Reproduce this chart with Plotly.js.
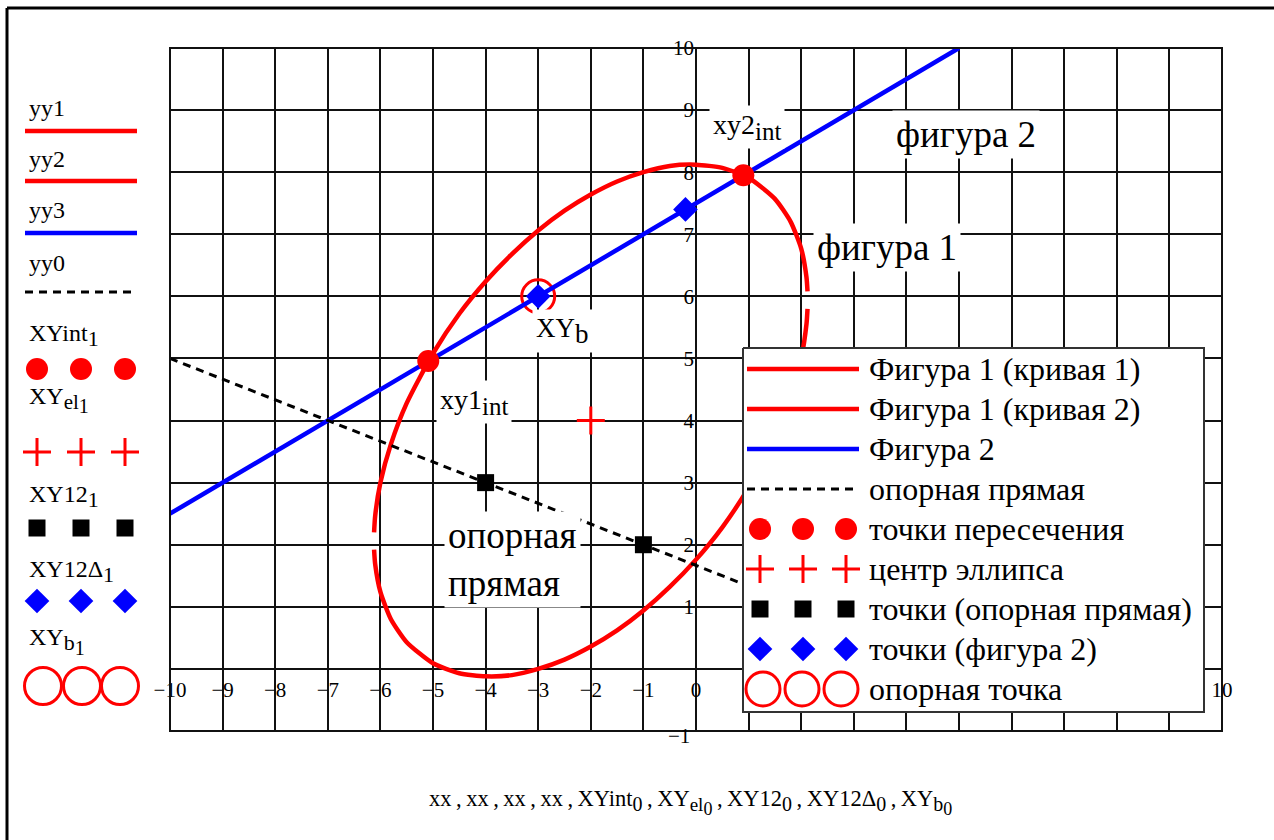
<!DOCTYPE html>
<html>
<head>
<meta charset="utf-8">
<script src="https://cdn.plot.ly/plotly-3.0.1.min.js"></script>
<style>
  html, body { margin: 0; padding: 0; background: #fff; }
  #chart { width: 1274px; height: 840px; }
</style>
</head>
<body>
<div id="chart"></div>
<script>
// ---- data -------------------------------------------------------------
// Figure 1: tilted ellipse, upper branch yy1 and lower branch yy2 over xx
const xx  = [-6.12, -6.1, -6.0, -5.8, -5.5, -5.0, -4.5, -4.0, -3.5, -3.0, -2.5, -2.0,
             -1.5, -1.0, -0.5, 0.0, 0.5, 1.0, 1.5, 1.8, 2.0, 2.1, 2.12];
const yy1 = [2.20, 2.46, 3.00, 3.62, 4.28, 5.08, 5.72, 6.24, 6.68, 7.06, 7.38, 7.64,
             7.85, 8.00, 8.10, 8.12, 8.07, 7.91, 7.57, 7.20, 6.77, 6.31, 6.08];
const yy2 = [1.92, 1.69, 1.24, 0.80, 0.43, 0.09, -0.07, -0.12, -0.10, 0.00, 0.15, 0.36,
             0.62, 0.94, 1.32, 1.76, 2.28, 2.92, 3.72, 4.38, 5.00, 5.55, 5.80];

// Figure 2: straight line yy3
const xx3 = [-10, 5];
const yy3 = [2.5, 10];

// Reference line yy0
const xx0 = [-10, 5];
const yy0 = [5, 0];

// Point sets
const XYintX  = [-5.09, 0.90];   // intersection points
const XYintY  = [4.96, 7.95];
const XYelX   = [-2];            // ellipse centre
const XYelY   = [4];
const XY12X   = [-4, -1];        // points on the reference line
const XY12Y   = [3, 2];
const XY12dX  = [-3, -0.2];      // points on figure 2
const XY12dY  = [6, 7.4];
const XYbX    = [-3];            // reference point
const XYbY    = [6];

// Axis ticks (labels 1..9 on x sit under the legend box, so only their grid is drawn)
const xLabelVals = [-10, -9, -8, -7, -6, -5, -4, -3, -2, -1, 0, 10];
const xGridOnly  = [1, 2, 3, 4, 5, 6, 7, 8, 9];
const yLabelVals = [1, 2, 3, 4, 5, 6, 7, 8, 9, 10];
const yBottomLabel = -1;

// ---- styles -----------------------------------------------------------
const SERIF = "'Liberation Serif', 'DejaVu Serif', serif";
const RED = '#ff0000', BLUE = '#0000ff', BLACK = '#000000';

// subscript kept close to the size of the main text
const sub = (s, px) => '<sub><span style="font-size:' + px + 'px">' + s + '</span></sub>';

// Legend texts
const boxLabels = ['Фигура 1 (кривая 1)', 'Фигура 1 (кривая 2)', 'Фигура 2', 'опорная прямая',
                   'точки пересечения', 'центр эллипса', 'точки (опорная прямая)',
                   'точки (фигура 2)', 'опорная точка'];
const sideLabels = ['yy1', 'yy2', 'yy3', 'yy0',
                    'XYint' + sub('1', 22),
                    'XY' + sub('el' + sub('1', 20), 21),
                    'XY12' + sub('1', 22),
                    'XY12Δ' + sub('1', 22),
                    'XY' + sub('b' + sub('1', 20), 22)];
const SEP = '\u2009,\u2009';
const xTitle = ['xx', 'xx', 'xx', 'xx',
                'XYint' + sub('0', 20),
                'XY' + sub('el' + sub('0', 18), 19),
                'XY12' + sub('0', 20),
                'XY12Δ' + sub('0', 20),
                'XY' + sub('b' + sub('0', 18), 20)].join(SEP);

const styles = [
  {kind: 'line', line: {color: RED, width: 4.5}},
  {kind: 'line', line: {color: RED, width: 4.5}},
  {kind: 'line', line: {color: BLUE, width: 4.5}},
  {kind: 'line', line: {color: BLACK, width: 3, dash: '8px,6px'}},
  {kind: 'marker', marker: {symbol: 'circle', size: 22, color: RED}},
  {kind: 'marker', marker: {symbol: 'cross-thin', size: 20, color: RED, line: {color: RED, width: 3}}},
  {kind: 'marker', marker: {symbol: 'square', size: 17, color: BLACK}},
  {kind: 'marker', marker: {symbol: 'diamond', size: 19, color: BLUE}},
  {kind: 'marker', marker: {symbol: 'circle-open', size: 33, color: RED, line: {color: RED, width: 3}}}
];

// ---- page geometry (pixels) -------------------------------------------
const W = 1274, H = 840;
const plotL = 170, plotR = 1222, plotT = 48, plotB = 731;
const xRange = [-10, 10], yRange = [-1, 10];
const xZeroPx = plotL + (0 - xRange[0]) / (xRange[1] - xRange[0]) * (plotR - plotL);
const yZeroPx = plotB - (0 - yRange[0]) / (yRange[1] - yRange[0]) * (plotB - plotT);

// ---- main traces ------------------------------------------------------
const traces = [
  {x: XYbX, y: XYbY, mode: 'markers', marker: styles[8].marker},
  {x: xx, y: yy1, mode: 'lines', line: Object.assign({shape: 'spline', smoothing: 0.6}, styles[0].line)},
  {x: xx, y: yy2, mode: 'lines', line: Object.assign({shape: 'spline', smoothing: 0.6}, styles[1].line)},
  {x: xx3, y: yy3, mode: 'lines', line: styles[2].line},
  {x: xx0, y: yy0, mode: 'lines', line: styles[3].line},
  {x: XYintX, y: XYintY, mode: 'markers', marker: styles[4].marker},
  {x: XYelX, y: XYelY, mode: 'markers', marker: styles[5].marker},
  {x: XY12X, y: XY12Y, mode: 'markers', marker: styles[6].marker},
  {x: XY12dX, y: XY12dY, mode: 'markers', marker: styles[7].marker}
].map(t => Object.assign({type: 'scatter', xaxis: 'x', yaxis: 'y', hoverinfo: 'skip', showlegend: false}, t));

// ---- legends drawn on a pixel-space overlay ---------------------------
const annotations = [];
const box = {l: 743, r: 1204, t: 348, b: 712};
traces.push({
  type: 'scatter', xaxis: 'x2', yaxis: 'y2', mode: 'lines', fill: 'toself', fillcolor: '#ffffff',
  x: [box.l, box.r, box.r, box.l, box.l], y: [box.t, box.t, box.b, box.b, box.t],
  line: {color: '#333333', width: 2}, hoverinfo: 'skip', showlegend: false
});

function addSample(style, lineX, markXs, yPx, ringSize) {
  if (style.kind === 'line') {
    traces.push({type: 'scatter', xaxis: 'x2', yaxis: 'y2', mode: 'lines', x: lineX, y: [yPx, yPx],
                 line: style.line, hoverinfo: 'skip', showlegend: false});
  } else {
    let marker = style.marker;
    if (marker.symbol === 'circle-open') marker = Object.assign({}, marker, {size: ringSize});
    traces.push({type: 'scatter', xaxis: 'x2', yaxis: 'y2', mode: 'markers', x: markXs,
                 y: markXs.map(() => yPx), marker: marker, cliponaxis: false,
                 hoverinfo: 'skip', showlegend: false});
  }
}

// boxed legend
boxLabels.forEach((txt, i) => {
  const yPx = 369 + 40 * i;
  const marks = i === 8 ? [763, 802, 841] : [760, 803, 846];
  addSample(styles[i], [747, 859], marks, yPx, 34);
  annotations.push({xref: 'x2', yref: 'y2', x: 867, y: yPx, text: txt, showarrow: false,
                    xanchor: 'left', yanchor: 'middle', font: {family: SERIF, size: 32, color: BLACK}});
});

// trace-name column on the left
const sideLabelY  = [108, 159, 210, 263, 335, 400, 496, 571, 641];
const sideSampleY = [131, 181, 233, 292, 369, 452, 528, 601, 686];
sideLabels.forEach((txt, i) => {
  const marks = i === 8 ? [43, 82, 120] : [37, 81, 125];
  addSample(styles[i], [25, 137], marks, sideSampleY[i], 37);
  annotations.push({xref: 'x2', yref: 'y2', x: 27, y: sideLabelY[i], text: txt, showarrow: false,
                    xanchor: 'left', yanchor: 'middle', font: {family: SERIF, size: 24, color: BLACK}});
});

// x axis caption
annotations.push({xref: 'x2', yref: 'y2', x: 690, y: 802, text: xTitle, showarrow: false,
                  xanchor: 'center', yanchor: 'middle', font: {family: SERIF, size: 22.5, color: BLACK}});

// bottom label of the y axis, written just under the frame
annotations.push({xref: 'x', yref: 'y', x: 0, y: yBottomLabel, text: '\u2212' + Math.abs(yBottomLabel),
                  showarrow: false, xanchor: 'right', yanchor: 'middle', xshift: -4, yshift: -5,
                  font: {family: SERIF, size: 21, color: BLACK}});

// ---- in-plot labels ---------------------------------------------------
const labelFont = s => ({family: SERIF, size: s, color: BLACK});
[
  {x: 0.25, y: 8.72, text: 'xy2' + sub('int', 25), xanchor: 'left', size: 28},
  {x: 5.13, y: 8.61, text: 'фигура 2', xanchor: 'center', size: 37},
  {x: 3.63, y: 6.79, text: 'фигура 1', xanchor: 'center', size: 37},
  {x: -3.12, y: 5.45, text: 'XY' + sub('b', 27), xanchor: 'left', size: 27},
  {x: -4.95, y: 4.30, text: 'xy1' + sub('int', 25), xanchor: 'left', size: 28},
  {x: -4.80, y: 1.76, text: 'опорная<br>прямая', xanchor: 'left', size: 37}
].forEach(a => annotations.push({
  xref: 'x', yref: 'y', x: a.x, y: a.y, text: a.text, showarrow: false, align: 'left',
  xanchor: a.xanchor, yanchor: 'middle', bgcolor: '#ffffff', borderpad: 3, font: labelFont(a.size)
}));

// ---- layout -----------------------------------------------------------
const gridStyle = {showgrid: true, gridcolor: '#111111', gridwidth: 2,
                   zeroline: true, zerolinecolor: '#111111', zerolinewidth: 2,
                   showline: false, ticks: '', fixedrange: true,
                   tickfont: {family: SERIF, size: 21, color: BLACK}};

const layout = {
  width: W, height: H,
  margin: {l: 0, r: 0, t: 0, b: 0, pad: 0},
  paper_bgcolor: '#ffffff', plot_bgcolor: 'rgba(0,0,0,0)',
  font: {family: SERIF, color: BLACK},
  showlegend: false,
  xaxis: Object.assign({}, gridStyle, {
    domain: [plotL / W, plotR / W], range: xRange, autorange: false,
    tickmode: 'array', tickvals: xLabelVals,
    minor: {tickmode: 'array', tickvals: xGridOnly, showgrid: true, gridcolor: '#111111', gridwidth: 2, ticks: ''},
    anchor: 'free', position: 1 - yZeroPx / H, ticklabelstandoff: 6
  }),
  yaxis: Object.assign({}, gridStyle, {
    domain: [1 - plotB / H, 1 - plotT / H], range: yRange, autorange: false,
    tickmode: 'array', tickvals: yLabelVals,
    anchor: 'free', position: xZeroPx / W, ticklabelstandoff: 2
  }),
  xaxis2: {domain: [0, 1], range: [0, W], autorange: false, visible: false, anchor: 'y2', fixedrange: true},
  yaxis2: {domain: [0, 1], range: [H, 0], autorange: false, visible: false, anchor: 'x2', fixedrange: true},
  shapes: [
    {type: 'rect', xref: 'x2', yref: 'y2', x0: plotL, x1: plotR, y0: plotT, y1: plotB,
     line: {color: '#111111', width: 2}, layer: 'below'},
    {type: 'line', xref: 'x2', yref: 'y2', x0: 7, x1: 7, y0: 8, y1: H, line: {color: BLACK, width: 3}},
    {type: 'line', xref: 'x2', yref: 'y2', x0: 7, x1: W, y0: 8, y1: 8, line: {color: BLACK, width: 3}}
  ],
  annotations: annotations
};

Plotly.newPlot('chart', traces, layout, {staticPlot: true, displayModeBar: false});
</script>
</body>
</html>
